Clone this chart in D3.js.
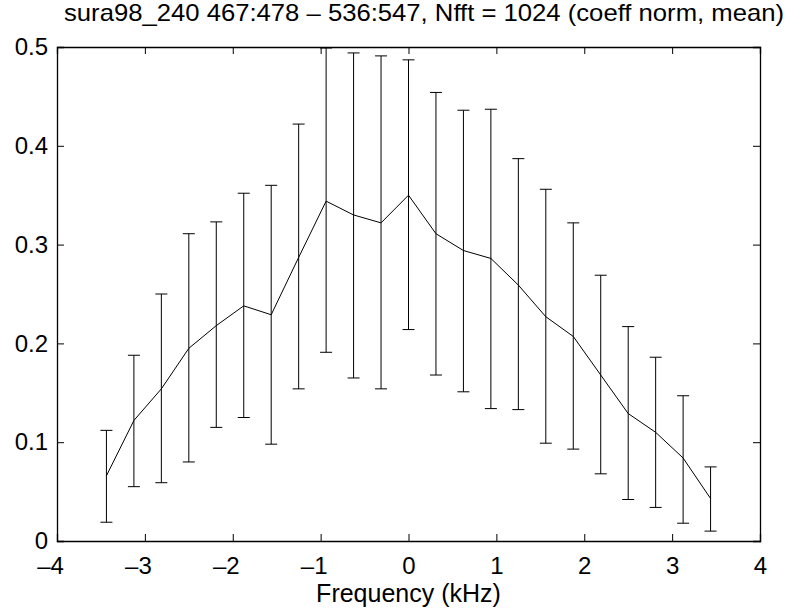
<!DOCTYPE html>
<html>
<head>
<meta charset="utf-8">
<script src="https://cdn.jsdelivr.net/npm/d3@7"></script>
<style>
  body { margin: 0; background: #fff; }
  text { font-family: "Liberation Sans", Arial, sans-serif; fill: #000; }
</style>
</head>
<body>
<div id="chart"></div>
<script>
// frequency bins (kHz)
var freqs = [-3.4375, -3.125, -2.8125, -2.5, -2.1875, -1.875, -1.5625, -1.25, -0.9375, -0.625, -0.3125, 0,
             0.3125, 0.625, 0.9375, 1.25, 1.5625, 1.875, 2.1875, 2.5, 2.8125, 3.125, 3.4375];
var means = [0.066, 0.122, 0.154, 0.195, 0.218, 0.238, 0.229, 0.287, 0.344, 0.330, 0.322, 0.350,
             0.311, 0.294, 0.286, 0.259, 0.227, 0.207, 0.168, 0.129, 0.110, 0.084, 0.043];
var upper = [0.112, 0.188, 0.250, 0.311, 0.323, 0.352, 0.360, 0.422, 0.499, 0.494, 0.491, 0.487,
             0.454, 0.436, 0.437, 0.387, 0.356, 0.322, 0.269, 0.217, 0.186, 0.147, 0.075];
var lower = [0.019, 0.055, 0.059, 0.080, 0.115, 0.125, 0.098, 0.154, 0.191, 0.165, 0.154, 0.214,
             0.168, 0.151, 0.134, 0.133, 0.099, 0.093, 0.068, 0.042, 0.034, 0.018, 0.010];
var xTicks = [-4, -3, -2, -1, 0, 1, 2, 3, 4];
var yTicks = [0, 0.1, 0.2, 0.3, 0.4, 0.5];

var W = 791, H = 614;
var mLeft = 57, mRight = 760, mTop = 47, mBottom = 541;

var svg = d3.select('#chart').append('svg')
            .attr('width', W)
            .attr('height', H);

var x = d3.scaleLinear().domain([-4, 4]).range([mLeft, mRight]);
var y = d3.scaleLinear().domain([0, 0.5]).range([mBottom, mTop]);

function fmt(d) { return d < 0 ? '\u2013' + Math.abs(d) : String(d); }

// axes (ticks inward, box all round)
var tl = 7;
var gx = svg.append('g').attr('transform', 'translate(0,' + mBottom + ')')
   .call(d3.axisBottom(x).tickValues(xTicks).tickSize(-tl).tickPadding(tl + 9).tickFormat(fmt));
// matlab centres the digit, the minus hangs to the left
gx.selectAll('.tick text').attr('dx', function(d) { return d < 0 ? -7 : 0; });

svg.append('g').attr('transform', 'translate(0,' + mTop + ')')
   .call(d3.axisTop(x).tickValues(xTicks).tickSize(-tl).tickFormat(''));
svg.append('g').attr('transform', 'translate(' + mLeft + ',0)')
   .call(d3.axisLeft(y).tickValues(yTicks).tickSize(-tl).tickPadding(tl + 2).tickFormat(function(d){ return String(d); }));
svg.append('g').attr('transform', 'translate(' + mRight + ',0)')
   .call(d3.axisRight(y).tickValues(yTicks).tickSize(-tl).tickFormat(''));

svg.selectAll('.domain').attr('stroke', '#000').attr('stroke-width', 1.3);
svg.selectAll('.tick line').attr('stroke', '#000');
svg.selectAll('.tick text').style('font-size', '24px');

// error bars
var bars = svg.append('g').attr('stroke', '#000').attr('stroke-width', 1);
freqs.forEach(function(f, i) {
  var cx = x(f);
  bars.append('line').attr('x1', cx).attr('x2', cx).attr('y1', y(lower[i])).attr('y2', y(upper[i]));
  bars.append('line').attr('x1', cx - 6).attr('x2', cx + 6).attr('y1', y(lower[i])).attr('y2', y(lower[i]));
  bars.append('line').attr('x1', cx - 6).attr('x2', cx + 6).attr('y1', y(upper[i])).attr('y2', y(upper[i]));
});

// mean line
var line = d3.line()
             .x(function(d, i) { return x(freqs[i]); })
             .y(function(d) { return y(d); });
svg.append('path').datum(means)
   .attr('d', line)
   .attr('fill', 'none')
   .attr('stroke', '#000')
   .attr('stroke-width', 1);

// labels
svg.append('text')
   .attr('x', 424).attr('y', 21)
   .attr('text-anchor', 'middle')
   .attr('textLength', 720)
   .attr('lengthAdjust', 'spacingAndGlyphs')
   .style('font-size', '24px')
   .text('sura98_240 467:478 \u2013 536:547, Nfft = 1024 (coeff norm, mean)');

svg.append('text')
   .attr('x', (mLeft + mRight) / 2).attr('y', 602)
   .attr('text-anchor', 'middle')
   .style('font-size', '25px')
   .text('Frequency (kHz)');
</script>
</body>
</html>
